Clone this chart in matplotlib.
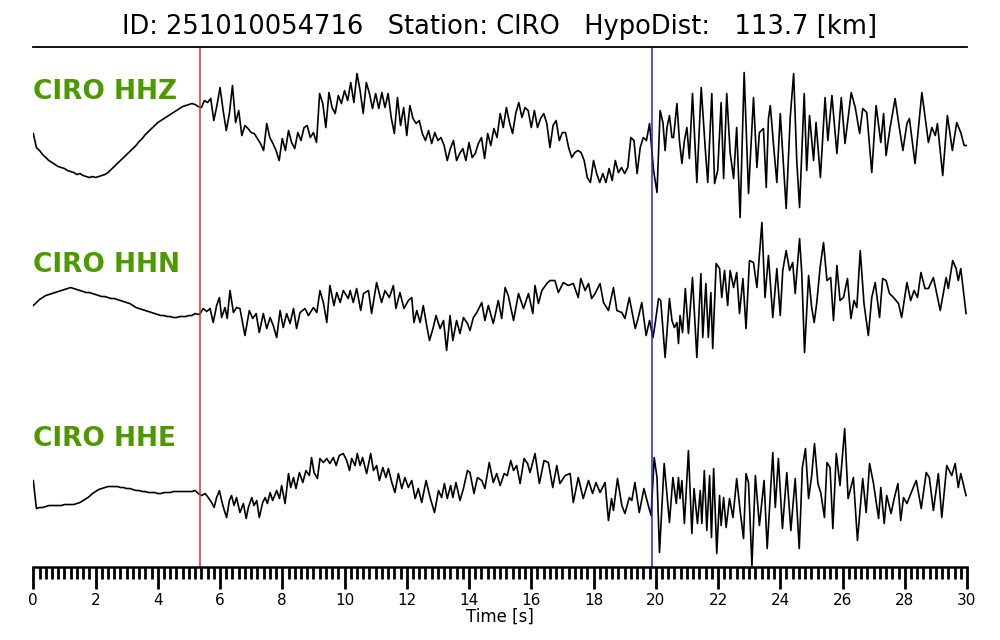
import numpy as np
import matplotlib
matplotlib.use("Agg")
import matplotlib.pyplot as plt

# Titre et stations
title = "ID: 251010054716   Station: CIRO   HypoDist:   113.7 [km]"
channels = ["CIRO HHZ", "CIRO HHN", "CIRO HHE"]
p_pick = 5.36   # secondes
s_pick = 19.87

# Amplitudes (unites arbitraires, haut = positif)
# partie echantillonnee tous les 0.1 s depuis t=0
hhz_uniform = [
    7, -7, -10, -14, -17, -20, -22, -24, -26, -27,
    -28, -30, -31, -32, -34, -33, -35, -36, -37, -36,
    -37, -36, -35, -34, -32, -29, -26, -23, -20, -17,
    -14, -11, -8, -5, -1, 2, 6, 9, 12, 15,
    18, 20, 22, 24, 26, 28, 30, 32, 34, 35,
    36, 37, 36, 34,
    33, 40, 38, 42, 20, 35, 53, 30, 10, 27,
    55, 18, 30, 5, 15, 12, 8, 7, 2, -3,
    -10, 17, 3, -3, -10, -20, 2, -10, 10, -2,
    -8, 8, 0, 13, 15, 3, 8, -2, 47, 37, 13,
    48, 33, 27, 45, 37,
    50, 40, 58, 38, 67, 50, 27, 58, 47, 32,
    47, 32, 48, 33, 47, 23, 7, 43, 15, 33,
    5, 35, 22, 17, 20, 7, 0, 10, -3, 8,
    0, 3, -5, -20, -8, 0, -20, -13, -8, -20,
    -2, -17, -13, -3, 3, -18, 7, -5, 12, 3,
    27, 13, 33, 18, 7, 27, 38, 23, 33, 30,
    13, 30, 13, 22, 27, 17, -7, 15, 20, 0,
    8, 8, -7, -17, -12, -10, -12, -20, -37, -42,
    -20, -33, -42, -33, -42, -28, -40, -20, -32, -27,
    -33, -27, 3, 0, -33, -7, 3, 0, 17]
hhz_time = [
    19.93, 20.04, 20.14, 20.23, 20.30, 20.36, 20.44, 20.52, 20.57, 20.68,
    20.76, 20.84, 20.92, 21.00, 21.08, 21.18, 21.32, 21.46, 21.59, 21.67,
    21.80, 21.89, 21.99, 22.10, 22.18, 22.28, 22.39, 22.50, 22.60, 22.71,
    22.84, 22.98, 23.14, 23.25, 23.33, 23.46, 23.55, 23.62, 23.68, 23.78,
    23.89, 24.00, 24.08, 24.19, 24.32, 24.43, 24.53, 24.62, 24.77, 24.85,
    24.94, 25.07, 25.15, 25.29, 25.44, 25.53, 25.66, 25.82, 25.96, 26.08,
    26.28, 26.41, 26.55, 26.65, 26.78, 26.94, 27.08, 27.23, 27.32, 27.40,
    27.53, 27.69, 27.80, 27.94, 28.07, 28.15, 28.33, 28.55, 28.76, 28.87,
    28.98, 29.05, 29.22, 29.37, 29.53, 29.67, 29.80, 29.91, 30.00]
hhz_amp = [
    -30, -52, 30, 18, -10, 13, 25, 3, 3, 37,
    0, -23, 0, 13, -18, 47, -42, 53, -8, -42,
    47, -43, -30, 38, -38, 47, -12, -38, 13, -77,
    68, -53, 43, -27, 8, 12, -47, 22, 35, -3,
    -42, 27, -13, -68, 23, 67, -20, -67, 47, -30,
    25, -20, 18, -37, 43, 0, 45, -13, 43, -3,
    48, 33, 7, 32, 28, -32, 35, -2, 27, -15,
    13, 42, 18, -10, 17, 22, -23, 48, -2, 13,
    5, 17, -35, 25, -10, 18, 8, -5, -5]

hhn_uniform = [
    0, 3, 6, 8, 10, 11, 12, 13, 14, 15,
    16, 17, 18, 17, 16, 15, 14, 13, 13, 12,
    11, 10, 9, 9, 8, 7, 7, 6, 5, 4,
    3, 2, 0, -2, -3, -4, -5, -6, -7, -8,
    -9, -10, -10, -11, -11, -12, -12, -11, -11, -11,
    -10, -10, -8, -9]
hhn_time = [
    5.36, 5.46, 5.57, 5.68, 5.78, 5.89, 5.98, 6.05, 6.16, 6.23, 6.32,
    6.43, 6.53, 6.64, 6.80, 6.94, 7.05, 7.16, 7.26, 7.39,
    7.50, 7.61, 7.71, 7.82, 7.93, 8.03, 8.14, 8.25, 8.36, 8.46,
    8.57, 8.73, 8.84, 9.00, 9.11, 9.21, 9.32, 9.43, 9.53, 9.66,
    9.75, 9.86, 9.96, 10.12,
    10.18, 10.28, 10.39, 10.52, 10.61, 10.77, 10.87, 11.03, 11.19, 11.30,
    11.44, 11.57, 11.65, 11.78, 11.91, 12.05, 12.16, 12.23, 12.32, 12.43,
    12.53, 12.64, 12.73, 12.85, 12.94, 13.07, 13.18, 13.28, 13.39, 13.48,
    13.60, 13.71, 13.82, 13.95, 14.03, 14.14, 14.25, 14.41, 14.51, 14.62,
    14.78, 14.94, 15.05, 15.16, 15.26, 15.43, 15.59, 15.75, 15.91, 16.05,
    16.12, 16.23, 16.34, 16.50, 16.60, 16.76, 16.87, 17.03, 17.19, 17.35,
    17.51, 17.59, 17.73, 17.84, 17.94, 18.05, 18.21, 18.32, 18.48, 18.64,
    18.75, 18.91, 19.01, 19.15, 19.34, 19.44, 19.55, 19.69, 19.80,
    19.91, 19.98, 20.09, 20.16, 20.30, 20.44, 20.52, 20.60, 20.68, 20.73,
    20.78, 20.86, 20.95, 21.05, 21.18, 21.32, 21.45, 21.51, 21.61, 21.69,
    21.77, 21.83, 21.94, 22.05, 22.12, 22.21, 22.31, 22.39, 22.50, 22.60,
    22.69, 22.80, 22.90, 23.01, 23.14, 23.25, 23.41, 23.51, 23.62, 23.76,
    23.89, 24.00, 24.08, 24.19, 24.30, 24.40, 24.48, 24.62, 24.69, 24.78,
    24.91, 25.01, 25.09, 25.17, 25.28, 25.39, 25.50, 25.62, 25.71, 25.82,
    25.92, 26.03, 26.16, 26.27, 26.37, 26.46, 26.57, 26.69, 26.83, 26.94,
    27.05, 27.19, 27.29, 27.40, 27.51, 27.64, 27.80, 27.90, 28.07, 28.19,
    28.30, 28.41, 28.52, 28.65, 28.76, 28.92, 29.14, 29.33, 29.40, 29.54,
    29.65, 29.72, 29.80, 29.97]
hhn_amp = [
    -8, -3, -6, -3, -17, 0, 8, -12, -2, -13, 15,
    -7, -2, -3, -30, -5, -13, -8, -27, -8,
    -23, -12, -20, -32, -5, -22, -8, -18, -3, -23,
    -7, -3, -10, -2, -7, 15, 3, -17, 20, 0,
    13, 3, 15, 7,
    15, 3, 17, -5, 12, 15, -8, 23, 3, 15,
    8, 20, -3, 13, -3, 5, 8, -17, -5, -17,
    0, -20, -35, -22, -10, -23, -15, -45, -10, -35,
    -15, -28, -12, -18, -25, -12, -7, 3, -15, 0,
    -18, 5, -13, 18, 10, -15, 12, -3, 12, -8,
    20, 2, 15, 22, 25, 25, 13, 23, 20, 22,
    8, 27, 15, 22, 7, 12, 22, 3, -5, 18,
    -5, -7, -13, 8, -23, -12, 3, -30, -15,
    -32, -18, 7, 5, -52, 7, -15, -22, -17, -38,
    -10, -27, 17, -28, 28, -52, 32, -32, 22, -32,
    13, -43, 42, 37, 8, 35, 0, 35, 18, 33,
    -8, 27, -23, 45, 43, 18, 83, 8, 50, -12,
    37, -10, 35, 55, 35, 43, 12, 67, 33, -47,
    30, -2, -17, 2, 38, 63, 25, 28, -15, 40,
    5, 8, 27, -13, 5, -2, 55, 2, -30, 8,
    23, -12, 27, 25, 12, 8, 2, -12, 23, 5,
    15, 8, 33, 17, 17, 28, -5, 28, 17, 45,
    37, 25, 37, -8]

hhe_uniform = [
    10, -18, -17, -17, -16, -15, -15, -15, -15, -15,
    -14, -14, -14, -14, -13, -12, -10, -8, -6, -3,
    -1, 1, 2, 3, 4, 4, 4, 4, 3, 3,
    2, 2, 1, 0, 0, -1, -1, -2, -2, -2,
    -3, -3, -2, -2, -2, -1, -1, -1, -1, -1,
    -1, -1, 0, -3]
hhe_time = [
    5.41, 5.52, 5.62, 5.73, 5.81, 5.89, 5.98, 6.05, 6.11, 6.21,
    6.30, 6.37, 6.45, 6.53, 6.64, 6.75, 6.84, 6.91, 7.02, 7.09,
    7.18, 7.26, 7.37, 7.45, 7.52, 7.61, 7.69, 7.82, 7.91, 7.98,
    8.09, 8.20, 8.27, 8.36, 8.44, 8.55, 8.66, 8.76, 8.87, 8.94,
    9.02, 9.13, 9.21, 9.32, 9.43, 9.53, 9.64, 9.73, 9.83, 9.96,
    10.07,
    10.16, 10.23, 10.34, 10.41, 10.50, 10.58, 10.71, 10.84, 10.93, 11.03,
    11.12, 11.23, 11.33, 11.41, 11.52, 11.62, 11.73, 11.84, 11.94, 12.05,
    12.16, 12.27, 12.37, 12.48, 12.62, 12.75, 12.89, 13.02, 13.12, 13.21,
    13.30, 13.41, 13.48, 13.58, 13.71, 13.82, 13.95, 14.03, 14.16, 14.27,
    14.41, 14.51, 14.65, 14.78, 14.89, 15.00, 15.13, 15.23, 15.34, 15.43,
    15.53, 15.64, 15.77, 15.88, 15.96, 16.12, 16.26, 16.41, 16.55, 16.69,
    16.82, 16.92, 17.09, 17.25, 17.35, 17.51, 17.67, 17.84, 17.97, 18.08,
    18.21, 18.37, 18.48, 18.58, 18.64, 18.77, 18.91, 19.01, 19.15, 19.23,
    19.33, 19.47, 19.62, 19.76,
    19.85, 19.95, 20.04, 20.12, 20.27, 20.44, 20.55, 20.66, 20.73, 20.78,
    20.84, 20.92, 21.05, 21.16, 21.23, 21.34, 21.43, 21.48, 21.56, 21.64,
    21.73, 21.79, 21.86, 21.96, 22.05, 22.10, 22.18, 22.26, 22.37, 22.48,
    22.60, 22.71, 22.82, 22.90, 22.98, 23.09, 23.20, 23.33, 23.48, 23.58,
    23.76, 23.84, 23.94, 24.07, 24.21, 24.34, 24.48, 24.61, 24.71, 24.81,
    24.91, 25.01, 25.10, 25.21, 25.30, 25.42, 25.50, 25.60, 25.69, 25.80,
    25.92, 26.07, 26.18, 26.35, 26.48, 26.65, 26.76, 26.87, 26.99, 27.16,
    27.23, 27.34, 27.42, 27.56, 27.66, 27.78, 27.87, 27.96, 28.07, 28.17,
    28.26, 28.37, 28.53, 28.69, 28.79, 28.92, 29.08, 29.19, 29.35, 29.51,
    29.62, 29.72, 29.80, 29.97]
hhe_amp = [
    -5, -3, -7, -12, -17, -7, 0, -10, -17, -27,
    -10, -5, -15, -7, -22, -13, -28, -17, -7, -15,
    -10, -27, -12, -7, -13, -2, -10, 0, -8, 5,
    -13, 17, 3, 13, 2, 18, 8, 20, 15, 33,
    18, 12, 32, 28, 32, 27, 33, 25, 35, 37,
    30,
    20, 32, 25, 37, 25, 33, 17, 37, 20, 25,
    10, 23, 13, 22, 8, -2, 17, 2, 13, 3,
    10, -8, 2, -12, 10, -7, -22, 0, -7, 7,
    -8, 5, -7, 8, -10, 2, 20, 18, -3, 13,
    10, 2, 28, 8, 17, 5, 17, 15, 30, 20,
    25, 7, 32, 27, 18, 37, 7, 30, 28, 3,
    25, 7, 15, 17, -12, 13, -8, 10, -3, 8,
    -2, 8, -30, -8, -20, 12, -15, -23, -7, -10,
    8, -22, 2, -15,
    -25, 33, 13, -62, 27, -32, 13, -13, 13, -8,
    10, -33, 40, -43, 2, -33, 0, -33, 20, -40,
    15, -47, 22, -63, -5, -35, -7, -37, -8, -27,
    12, -20, -48, 17, 8, -75, 15, -35, 10, -58,
    38, -17, 32, -38, 18, -40, 12, -58, 23, 42,
    -8, 15, 47, 7, -2, -27, 28, 23, -38, 37,
    5, 62, -8, 13, -50, 12, -22, 27, 8, -28,
    3, -33, -5, -23, -8, 7, -30, -7, -13, -5,
    2, 10, -18, 18, 13, -20, 17, -27, 25, 15,
    27, 3, 17, -5]

# decalage vertical de chaque trace et position du nom
offsets = [426, 261, 76]
label_y = [475, 302, 128]


def build_trace(uniform, times, amps, dt=0.1):
    t = np.concatenate([np.arange(len(uniform)) * dt, times])
    a = np.concatenate([uniform, amps]).astype(float)
    return t, a


traces = [build_trace(hhz_uniform, hhz_time, hhz_amp),
          build_trace(hhn_uniform, hhn_time, hhn_amp),
          build_trace(hhe_uniform, hhe_time, hhe_amp)]

fig = plt.figure(figsize=(10, 6.4), dpi=100)
ax = fig.add_axes([0.0333, 0.1148, 0.9337, 0.8125])

for (t, a), off, name, ly in zip(traces, offsets, channels, label_y):
    ax.plot(t, a + off, color="black", lw=1.2)
    ax.text(0.0, ly, name, transform=ax.get_yaxis_transform(),
            ha="left", va="center", fontsize=19, fontweight="bold", color="#4C9A00")

ax.axvline(p_pick, color="#ee2a2a", lw=1.1)
ax.axvline(s_pick, color="#2020ee", lw=1.1)

ax.set_xlim(0, 30)
ax.set_ylim(0, 520)
ax.set_yticks([])
ax.spines["left"].set_visible(False)
ax.spines["right"].set_visible(False)
ax.spines["top"].set_linewidth(1.3)
ax.spines["bottom"].set_linewidth(1.8)

ax.set_xticks(np.arange(0, 31, 2))
ax.set_xticks(np.arange(0, 30.01, 0.2), minor=True)
ax.tick_params(axis="x", which="major", length=16, width=2, labelsize=11, pad=3)
ax.tick_params(axis="x", which="minor", length=8.5, width=2)
ax.set_xlabel("Time [s]", fontsize=12, labelpad=0)

fig.text(0.5, 0.958, title, ha="center", va="center", fontsize=18.5)

fig.savefig("out.png", dpi=100)
